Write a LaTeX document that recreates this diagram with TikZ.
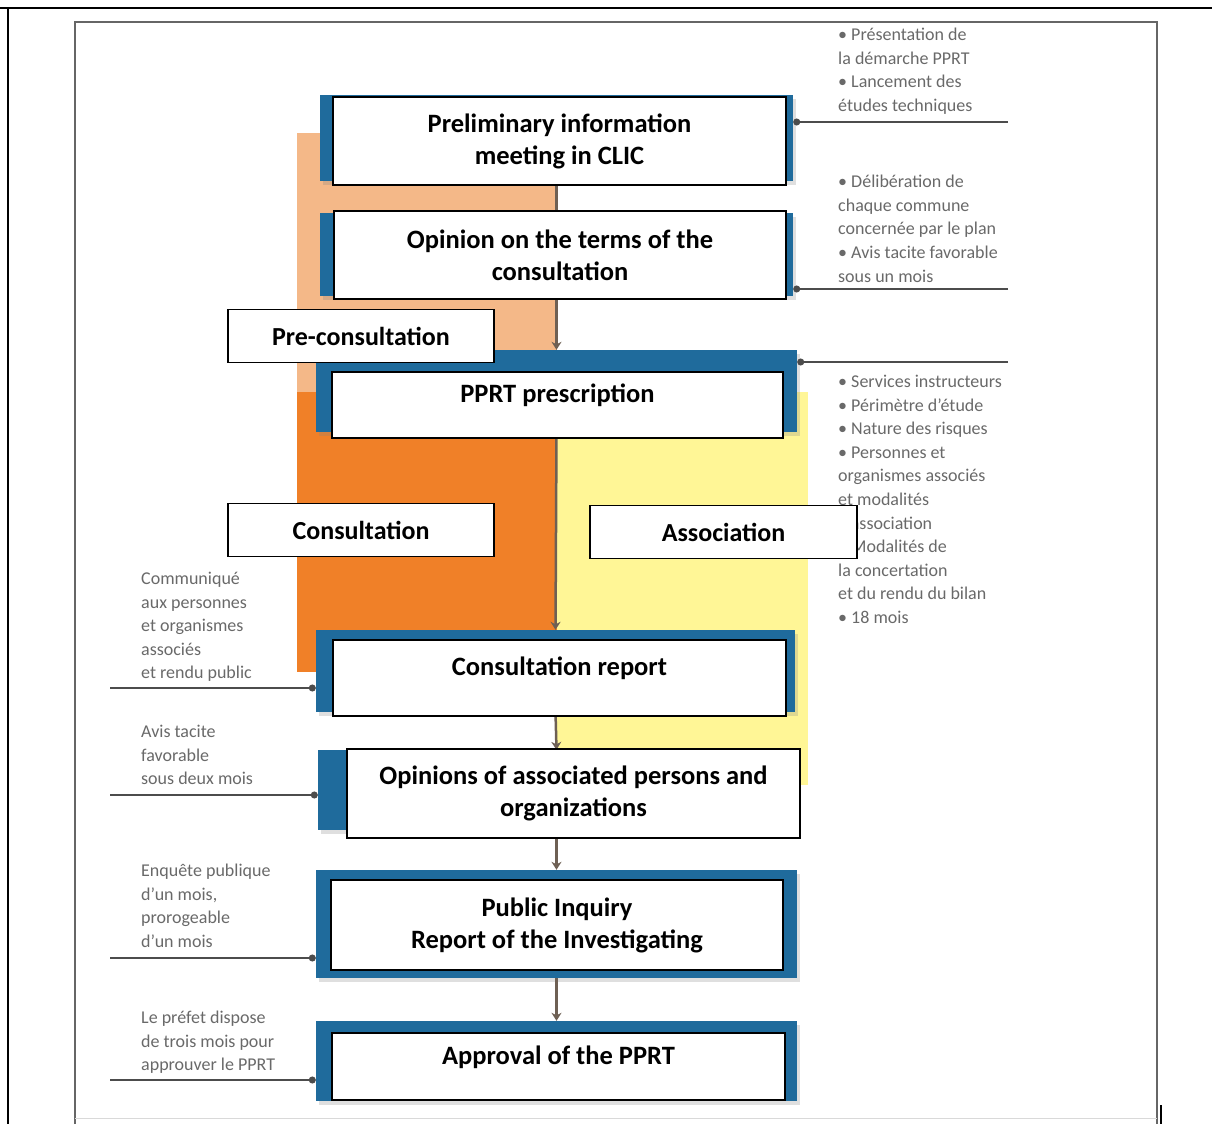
\documentclass[tikz,border=0pt]{standalone}
\usepackage{fontspec}
\setmainfont{Carlito}
\usetikzlibrary{arrows.meta,shadows}
\definecolor{frameblue}{RGB}{31,107,156}
\definecolor{peach}{RGB}{244,184,136}
\definecolor{deeporange}{RGB}{240,128,40}
\definecolor{paleyellow}{RGB}{255,246,150}
\definecolor{notegray}{RGB}{105,105,105}
\definecolor{linebrown}{RGB}{110,96,84}
\begin{document}
\begin{tikzpicture}[x=1pt,y=-1pt,
  bluebar/.style={fill=frameblue,inner sep=0pt,drop shadow={opacity=.25,shadow xshift=3pt,shadow yshift=-4pt}},
  stage/.style={draw=black,line width=1.2pt,fill=white,inner sep=0pt,align=center,font=\bfseries\fontsize{26.5}{32}\selectfont},
  oneline/.style={text height=18pt,text depth=23pt},
  phasebox/.style={draw=black,line width=1.2pt,fill=white,inner sep=0pt,minimum width=266pt,minimum height=53pt,font=\bfseries\fontsize{26}{32}\selectfont},
  sidenote/.style={anchor=north west,inner sep=0pt,align=left,text=notegray,font=\fontsize{18}{23.6}\selectfont},
  flow/.style={draw=linebrown,line width=2.5pt},
  tie/.style={draw=black!70,line width=1.4pt,-{Circle[length=7pt]}}]
  \useasboundingbox (0,0) rectangle (1212,1124);
  % page and picture frame
  \draw[line width=2pt] (0,8) -- (1212,8);
  \draw[line width=2pt] (8,8) -- (8,1124);
  \draw[black!60,line width=1.5pt] (75,1124) -- (75,22) -- (1157,22) -- (1157,1124);
  \draw[black!15] (75,1118) -- (1157,1118);
  \draw[line width=1.5pt] (1161,1105) -- (1161,1124);
  % coloured phases
  \fill[peach] (297,133) rectangle (557,395);
  \fill[deeporange] (297,392) rectangle (557,672);
  \fill[paleyellow] (557,392) rectangle (808,785);
  % blue frames
  \node[bluebar,minimum width=473pt,minimum height=86pt] (f1) at (556.5,138) {};
  \node[bluebar,minimum width=473pt,minimum height=83pt] (f2) at (556.5,254.5) {};
  \node[bluebar,minimum width=481pt,minimum height=82pt] (f3) at (556.5,391) {};
  \node[bluebar,minimum width=479pt,minimum height=82pt] (f4) at (555.5,671) {};
  \node[bluebar,minimum width=477pt,minimum height=80pt] (f5) at (556.5,790) {};
  \node[bluebar,minimum width=481pt,minimum height=108pt] (f6) at (556.5,924) {};
  \node[bluebar,minimum width=481pt,minimum height=80pt] (f7) at (556.5,1061) {};
  % main line
  \draw[flow] (f1.south) -- (f2.north);
  \foreach \a/\b in {f2/f3,f3/f4,f4/f5,f5/f6,f6/f7}
    \draw[flow,-{Stealth[length=8pt,width=10pt]}] (\a.south) -- (\b.north);
  % notes
  \node[sidenote] (n1) at (838,28) {• Présentation de\\la démarche PPRT\\• Lancement des\\études techniques};
  \node[sidenote] (n2) at (838,175) {• Délibération de\\chaque commune\\concernée par le plan\\• Avis tacite favorable\\sous un mois};
  \node[sidenote] (n3) at (838,375) {• Services instructeurs\\• Périmètre d'étude\\• Nature des risques\\• Personnes et\\organismes associés\\et modalités\\d'association\\• Modalités de\\la concertation\\et du rendu du bilan\\• 18 mois};
  \node[sidenote] (n4) at (141,572) {Communiqué\\aux personnes\\et organismes\\associés\\et rendu public};
  \node[sidenote] (n5) at (141,725) {Avis tacite\\favorable\\sous deux mois};
  \node[sidenote] (n6) at (141,864) {Enquête publique\\d'un mois,\\prorogeable\\d'un mois};
  \node[sidenote] (n7) at (141,1011) {Le préfet dispose\\de trois mois pour\\approuver le PPRT};
  \coordinate (r1) at (1008,122);
  \coordinate (r2) at (1008,289);
  \coordinate (r3) at (1008,362);
  \coordinate (l4) at (110,688);
  \coordinate (l5) at (110,795);
  \coordinate (l6) at (110,958);
  \coordinate (l7) at (110,1080);
  \draw[tie] (r1) -- (r1 -| f1.east);
  \draw[tie] (r2) -- (r2 -| f2.east);
  \draw[tie] (r3) -- (r3 -| f3.east);
  \foreach \k in {4,5,6,7}
    \draw[tie] (l\k) -- (l\k -| f\k.west);
  % steps
  \node[stage,minimum width=453pt,minimum height=88pt] (b1) at (559.5,141) {Preliminary information\\meeting in CLIC};
  \node[stage,minimum width=452pt,minimum height=88pt] (b2) at (560,255) {Opinion on the terms of the\\consultation};
  \node[stage,oneline,minimum width=451pt,minimum height=66pt] (b3) at (557.5,405) {PPRT prescription};
  \node[stage,oneline,minimum width=453pt,minimum height=76pt] (b4) at (559.5,678) {Consultation report};
  \node[stage,minimum width=453pt,minimum height=89pt] (b5) at (573.5,793.5) {Opinions of associated persons and\\organizations};
  \node[stage,minimum width=452pt,minimum height=90pt] (b6) at (557,925) {Public Inquiry\\Report of the Investigating};
  \node[stage,oneline,minimum width=453pt,minimum height=67pt] (b7) at (558.5,1066.5) {Approval of the PPRT};
  % phases
  \node[phasebox] (pc) at (361,336) {Pre-consultation};
  \node[phasebox] (cs) at (361,530) {Consultation};
  \node[phasebox,minimum width=267pt] (as) at (723.5,532) {Association};
\end{tikzpicture}
\end{document}
